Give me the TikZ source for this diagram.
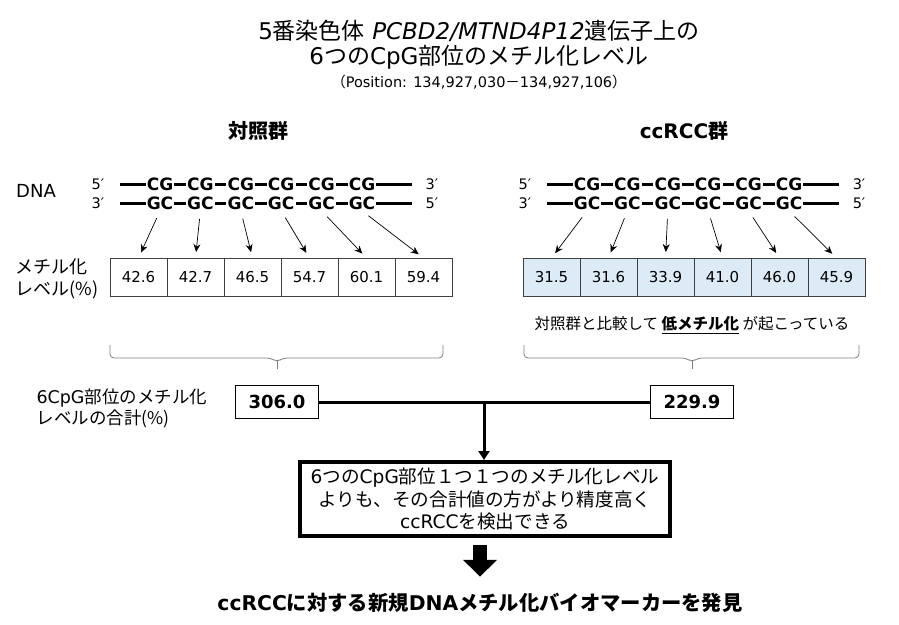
\documentclass[tikz,border=0pt]{standalone}
\usepackage{fontspec}
\setmainfont{DejaVu Sans}
\newfontfamily\jp{Noto Sans CJK JP}
\usetikzlibrary{arrows.meta,positioning}
\definecolor{paleblue}{HTML}{DDEBF7}
\definecolor{bracegray}{HTML}{7F7F7F}

\begin{document}
\begin{tikzpicture}[x=1pt,y=-1pt,
cell/.style={draw=black!75,line width=.8pt,minimum width=57pt,minimum height=38pt,inner sep=0pt,outer sep=0pt,font=\fontsize{15}{17}\selectfont},
base/.style={fill=white,inner sep=1.2pt,font=\bfseries\fontsize{17}{19}\selectfont},
prime/.style={font=\fontsize{14.5}{16}\selectfont},
strand/.style={line width=3pt},
arr/.style={-{Stealth[length=8pt,width=7pt]},line width=.7pt,shorten <=8pt,shorten >=6pt},
brc/.style={draw=bracegray,line width=.8pt,rounded corners=4pt},
sumbox/.style={draw,line width=1.8pt,minimum width=83pt,minimum height=33pt,font=\bfseries\fontsize{18}{20}\selectfont},
bar/.style={line width=3pt},
fat/.style={line width=14pt,-{Triangle[length=17pt,width=33pt]},shorten <=7pt,shorten >=13pt}]
\useasboundingbox (0,0) rectangle (899,624);
% title
\node[align=center,font=\fontsize{23}{25}\selectfont](title) at (479,45){5{\jp 番染色体} \textit{PCBD2/MTND4P12}{\jp 遺伝子上の}\\6{\jp つの}CpG{\jp 部位のメチル化レベル}};
\node[font=\fontsize{14.5}{16}\selectfont](pos) at (479,82){{\jp （}Position: 134,927,030{\jp －}134,927,106{\jp ）}};
\node[font=\bfseries\fontsize{20}{24}\selectfont](ctl) at (258,131){\jp 対照群};
\node[font=\bfseries\fontsize{20}{24}\selectfont](ccg) at (684,131){ccRCC{\jp 群}};
% DNA strands
\node[font=\fontsize{18}{20}\selectfont](dna) at (36,191){DNA};
\node[prime](lt5) at (98,184){5′};\node[prime](lt3) at (432,184){3′};
\node[prime](lb3) at (98,203){3′};\node[prime](lb5) at (432,203){5′};
\node[prime](rt5) at (525,184){5′};\node[prime](rt3) at (859,184){3′};
\node[prime](rb3) at (525,203){3′};\node[prime](rb5) at (859,203){5′};
\draw[strand] (120,184)--(412,184);\draw[strand] (120,203)--(412,203);
\draw[strand] (547,184)--(839,184);\draw[strand] (547,203)--(839,203);
\foreach \i in {1,...,6}{
  \node[base](lc\i) at ({119.6+40.4*\i},184){CG};\node[base](lg\i) at ({119.6+40.4*\i},203){GC};
  \node[base](rc\i) at ({546.6+40.4*\i},184){CG};\node[base](rg\i) at ({546.6+40.4*\i},203){GC};
}
% methylation levels
\node[align=left,anchor=west,font=\fontsize{18}{22}\selectfont](lvl) at (12,279){{\jp メチル化}\\{\jp レベル(\%)}};
\node[cell](a1) at (138.5,277){42.6};\node[cell,right=0pt of a1](a2){42.7};\node[cell,right=0pt of a2](a3){46.5};
\node[cell,right=0pt of a3](a4){54.7};\node[cell,right=0pt of a4](a5){60.1};\node[cell,right=0pt of a5](a6){59.4};
\node[cell,fill=paleblue](b1) at (551.5,277){31.5};\node[cell,fill=paleblue,right=0pt of b1](b2){31.6};\node[cell,fill=paleblue,right=0pt of b2](b3){33.9};
\node[cell,fill=paleblue,right=0pt of b3](b4){41.0};\node[cell,fill=paleblue,right=0pt of b4](b5){46.0};\node[cell,fill=paleblue,right=0pt of b5](b6){45.9};
\foreach \i in {1,...,6}{\draw[arr](lg\i.south)--(a\i.north);\draw[arr](rg\i.south)--(b\i.north);}
\node[font=\fontsize{15.5}{17}\selectfont](note) at (692,325){\jp 対照群と比較して \underline{\bfseries 低メチル化} が起こっている};
% braces
\draw[brc](110,345)--(110,358)--(271,358)--(277,362)--(283,358)--(443,358)--(443,345);
\draw[draw=bracegray,line width=.8pt](277,361)--(277,369);
\draw[brc](524,345)--(524,358)--(686,358)--(692,362)--(698,358)--(859,358)--(859,345);
\draw[draw=bracegray,line width=.8pt](692,361)--(692,369);
% sums
\node[align=left,anchor=west,font=\fontsize{17.5}{21}\selectfont](sumlbl) at (33,408){6CpG{\jp 部位のメチル化}\\{\jp レベルの合計(\%)}};
\node[sumbox](s1) at (277,402){306.0};\node[sumbox](s2) at (692,402){229.9};
\coordinate (j) at (484,402);
\draw[bar](s1)--(s2);
\node[draw,line width=4pt,minimum width=370pt,minimum height=74pt,align=center,font=\fontsize{18.6}{22.5}\selectfont](concl) at (485,499){6{\jp つの}CpG{\jp 部位１つ１つのメチル化レベル}\\{\jp よりも、その合計値の方がより精度高く}\\ccRCC{\jp を検出できる}};
\draw[bar,-{Triangle[length=9pt,width=11pt]}](j)--(j|-concl.north);
\node[font=\bfseries\fontsize{20.3}{24}\selectfont](res) at (480,603){ccRCC{\jp に対する新規}DNA{\jp メチル化バイオマーカーを発見}};
\draw[fat](concl.south-|res)--(res);
\end{tikzpicture}
\end{document}
